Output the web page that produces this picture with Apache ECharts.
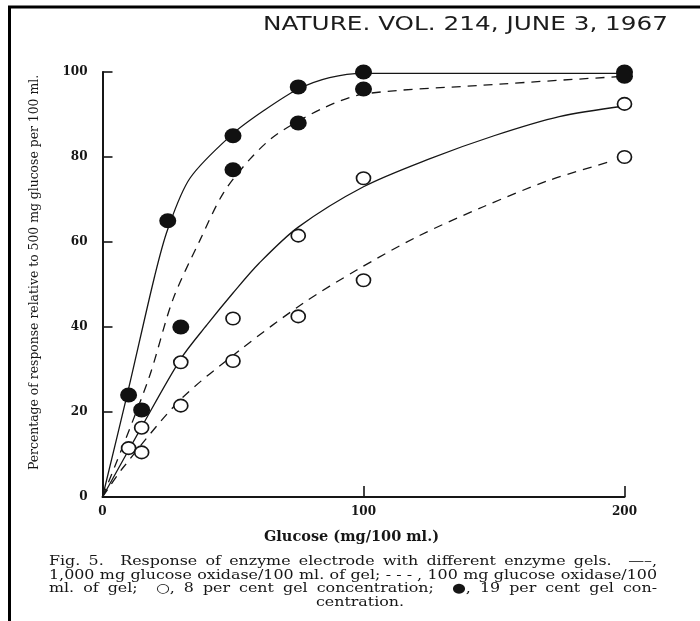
<!DOCTYPE html>
<html>
<head>
<meta charset="utf-8">
<script src="https://cdn.jsdelivr.net/npm/echarts@6/dist/echarts.min.js"></script>
<style>
  html, body { margin: 0; padding: 0; background: #fff; }
  #chart { width: 700px; height: 621px; }
</style>
</head>
<body>
<div id="chart"></div>
<script>
// points: [glucose mg/100 ml, % response]
// filled = 19 per cent gel, open = 8 per cent gel
const filled1000 = [[10, 24], [25, 65], [50, 85], [75, 96.5], [100, 100], [200, 100]];
const filled100 = [[15, 20.5], [30, 40], [50, 77], [75, 88], [100, 96], [200, 99]];
const open1000 = [[10, 11.5], [15, 16.3], [30, 31.7], [50, 42], [75, 61.5], [100, 75], [200, 92.5]];
const open100 = [[15, 10.5], [30, 21.5], [50, 32], [75, 42.5], [100, 51], [200, 80]];

// the hand drawn curves, traced along their length
const curveFilled1000 = [[0, 0], [10, 25.5], [20, 52], [25, 63], [33.5, 75], [50, 85.5], [62, 91], [75, 96], [87, 98.7], [100, 99.7], [150, 99.7], [200, 99.7]];
const curveFilled100 = [[0, 0], [17.5, 27.5], [27, 46.5], [37.4, 60.5], [46.3, 71.5], [56.5, 79.5], [66.7, 85.3], [84.6, 91.5], [100, 94.8], [145.9, 96.9], [200, 99]];
const curveOpen1000 = [[0, 0], [15, 16.5], [30, 32.5], [40, 40.5], [50, 48], [60, 55], [75, 63.5], [100, 73], [125, 79.5], [150, 85], [175, 89.5], [200, 92]];
const curveOpen100 = [[0, 0], [8, 7], [29.7, 22.8], [52.7, 34.6], [76.9, 45.6], [97.4, 53.4], [120.4, 61.2], [145.9, 68.3], [171.5, 74.6], [195, 79]];

const xTicks = [0, 100, 200];
const yTicks = [0, 20, 40, 60, 80, 100];

const headerText = 'NATURE. VOL. 214, JUNE 3, 1967';
const captionLines = [
  'Fig. 5.  Response of enzyme electrode with different enzyme gels.  \u2014\u2013,',
  '1,000 mg glucose oxidase/100 ml. of gel; -\u00a0-\u00a0-\u00a0, 100 mg glucose oxidase/100',
  'ml. of gel;  \u25cb, 8 per cent gel concentration;  \u25cf, 19 per cent gel con-',
  'centration.'
];

const ink = '#161616';
const serif = '"DejaVu Serif", "Liberation Serif", serif';
// the scanned page is stretched sideways; text is widened to suit
const stretch = 1.24;
const captionSize = 12.8;

const measureCtx = document.createElement('canvas').getContext('2d');
function textWidth(t, size, family, weight) {
  measureCtx.font = weight + ' ' + size + 'px ' + family;
  return measureCtx.measureText(t).width;
}

// spread words over a fixed width, like the printed justified lines
function justifyLine(words, x, y, width, size) {
  const widths = words.map(w => textWidth(w, size, serif, 'normal') * stretch);
  const total = widths.reduce((a, b) => a + b, 0);
  const gap = (width - total) / (words.length - 1);
  let cx = x;
  return words.map((w, i) => {
    const el = {
      type: 'text', x: cx, y: y, scaleX: stretch, silent: true,
      style: { text: w, fill: ink, fontSize: size, fontFamily: serif, align: 'left', verticalAlign: 'middle' }
    };
    cx += widths[i] + gap;
    return el;
  });
}

const headerFont = '"DejaVu Sans", sans-serif';
const headerScale = 405 / textWidth(headerText, 19, headerFont, 'normal');

const graphics = [
  // page frame, top and left
  { type: 'line', shape: { x1: 8, y1: 7, x2: 700, y2: 7 }, style: { stroke: '#000', lineWidth: 3 } },
  { type: 'line', shape: { x1: 9.5, y1: 6, x2: 9.5, y2: 621 }, style: { stroke: '#000', lineWidth: 3 } },
  {
    type: 'text', x: 263, y: 25, scaleX: headerScale, silent: true,
    style: { text: headerText, fill: '#1c1c1c', fontSize: 19, fontFamily: headerFont, align: 'left', verticalAlign: 'middle' }
  },
  {
    type: 'text', x: 360, y: 562 + 3 * 13.4, scaleX: stretch, silent: true,
    style: { text: captionLines[3], fill: ink, fontSize: captionSize, fontFamily: serif, align: 'center', verticalAlign: 'middle' }
  }
];
captionLines.slice(0, 3).forEach((line, i) => {
  graphics.push(...justifyLine(line.split(' '), 49, 562 + i * 13.4, 608, captionSize));
});

function curve(data, dashed) {
  return {
    type: 'line',
    data: data,
    showSymbol: false,
    smooth: 0.3,
    silent: true,
    z: 2,
    lineStyle: { color: ink, width: 1.3, type: dashed ? [9, 7] : 'solid' }
  };
}
function dots(data, filled) {
  return {
    type: 'scatter',
    data: data,
    symbol: 'circle',
    symbolSize: filled ? [17, 15] : [14, 12.5],
    z: 3,
    itemStyle: filled
      ? { color: '#111', opacity: 1 }
      : { color: '#fff', borderColor: ink, borderWidth: 1.6, opacity: 1 }
  };
}

const chart = echarts.init(document.getElementById('chart'));
chart.setOption({
  backgroundColor: '#fff',
  animation: false,
  grid: { left: 102.5, right: 75.5, top: 72, bottom: 124 },
  xAxis: {
    type: 'value', min: 0, max: 200, interval: 100,
    name: 'Glucose (mg/100 ml.)', nameLocation: 'middle', nameGap: 33,
    nameTextStyle: { color: ink, fontSize: 14.5, fontFamily: serif, fontWeight: 'bold', padding: [0, 24, 0, 0] },
    axisLine: { lineStyle: { color: ink, width: 2 } },
    axisTick: { inside: true, length: 11, lineStyle: { color: ink, width: 1.6 } },
    splitLine: { show: false },
    axisLabel: {
      color: ink, fontSize: 12, fontFamily: serif, fontWeight: 'bold', margin: 9,
      customValues: xTicks
    }
  },
  yAxis: {
    type: 'value', min: 0, max: 100, interval: 20,
    name: 'Percentage of response relative to 500 mg glucose per 100 ml.',
    nameLocation: 'middle', nameGap: 62,
    nameTextStyle: { color: ink, fontSize: 12.4, fontFamily: serif, padding: [0, 0, 0, 24] },
    axisLine: { lineStyle: { color: ink, width: 2 } },
    axisTick: { inside: true, length: 10, lineStyle: { color: ink, width: 1.6 } },
    splitLine: { show: false },
    axisLabel: {
      color: ink, fontSize: 12, fontFamily: serif, fontWeight: 'bold', margin: 15,
      customValues: yTicks
    }
  },
  series: [
    curve(curveFilled1000, false),
    curve(curveFilled100, true),
    curve(curveOpen1000, false),
    curve(curveOpen100, true),
    dots(filled1000, true),
    dots(filled100, true),
    dots(open1000, false),
    dots(open100, false)
  ],
  graphic: graphics
});
</script>
</body>
</html>
